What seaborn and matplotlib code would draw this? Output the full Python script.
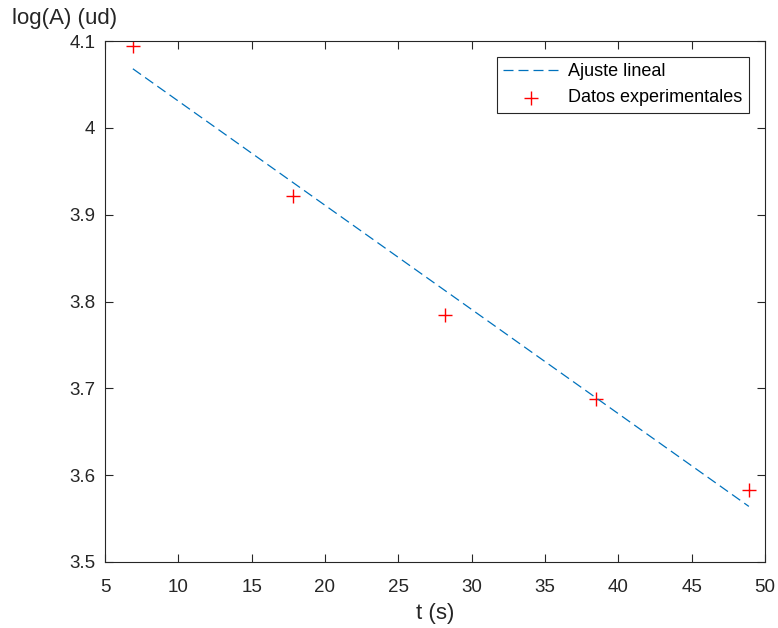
import numpy as np
import pandas as pd
import matplotlib
matplotlib.use("Agg")
import matplotlib.pyplot as plt
import seaborn as sns

# Measured decay: time (s) and log of amplitude
t_data = [6.9, 17.8, 28.2, 38.5, 48.9]
logA_data = [4.0946, 3.921, 3.784, 3.688, 3.583]

# Least-squares line evaluated at the ends of the measured range
t_fit = [6.9, 48.9]
logA_fit = [4.068, 3.564]

x_ticks = [5, 10, 15, 20, 25, 30, 35, 40, 45, 50]
y_ticks = [3.5, 3.6, 3.7, 3.8, 3.9, 4.0, 4.1]
y_tick_labels = ["3.5", "3.6", "3.7", "3.8", "3.9", "4", "4.1"]

sns.set_theme(style="ticks")
plt.rcParams["font.family"] = ["Liberation Sans", "DejaVu Sans"]

ink = "#262626"
fs = 13.5
label_fs = 16

fig = plt.figure(figsize=(7.78, 6.28), dpi=100)
ax = fig.add_axes([105 / 778, 1 - 562 / 628, 660 / 778, 521 / 628])

fit_df = pd.DataFrame({"t": t_fit, "logA": logA_fit})
data_df = pd.DataFrame({"t": t_data, "logA": logA_data})

sns.lineplot(data=fit_df, x="t", y="logA", ax=ax, color="#0072BD",
             linewidth=0.9, dashes=False, label="Ajuste lineal")
ax.lines[-1].set_dashes((8, 4))
sns.scatterplot(data=data_df, x="t", y="logA", ax=ax, marker="+",
                color="#FF0000", s=90, linewidth=1.0,
                label="Datos experimentales")

ax.set_xlim(5, 50)
ax.set_ylim(3.5, 4.1)
ax.set_xticks(x_ticks)
ax.set_xticklabels([str(v) for v in x_ticks])
ax.set_yticks(y_ticks)
ax.set_yticklabels(y_tick_labels)

for side in ["top", "right", "bottom", "left"]:
    ax.spines[side].set_visible(True)
    ax.spines[side].set_color(ink)
    ax.spines[side].set_linewidth(0.8)

ax.tick_params(axis="both", which="major", direction="in", length=6,
               width=0.8, color=ink, labelcolor=ink, labelsize=fs,
               top=True, right=True)
ax.tick_params(axis="x", pad=12.5)
ax.tick_params(axis="y", pad=7)

ax.set_xlabel("t (s)", fontsize=label_fs, color=ink, labelpad=5)
ax.set_ylabel("log(A) (ud)", fontsize=label_fs, color=ink, rotation=0,
              ha="right", va="center")
ax.yaxis.set_label_coords(0.018, 1.044)

leg = ax.legend(loc="upper right",
                bbox_to_anchor=((749 - 105) / 660, 1 - (57 - 41) / 521),
                borderaxespad=0, frameon=True, fancybox=False,
                fontsize=13, handlelength=3.1, handletextpad=0.5,
                labelspacing=0.5, borderpad=0.35)
leg.get_frame().set_edgecolor(ink)
leg.get_frame().set_linewidth(0.8)
leg.get_frame().set_alpha(1)
for txt in leg.get_texts():
    txt.set_color("#000000")

fig.savefig("out.png", dpi=100, facecolor="white")
